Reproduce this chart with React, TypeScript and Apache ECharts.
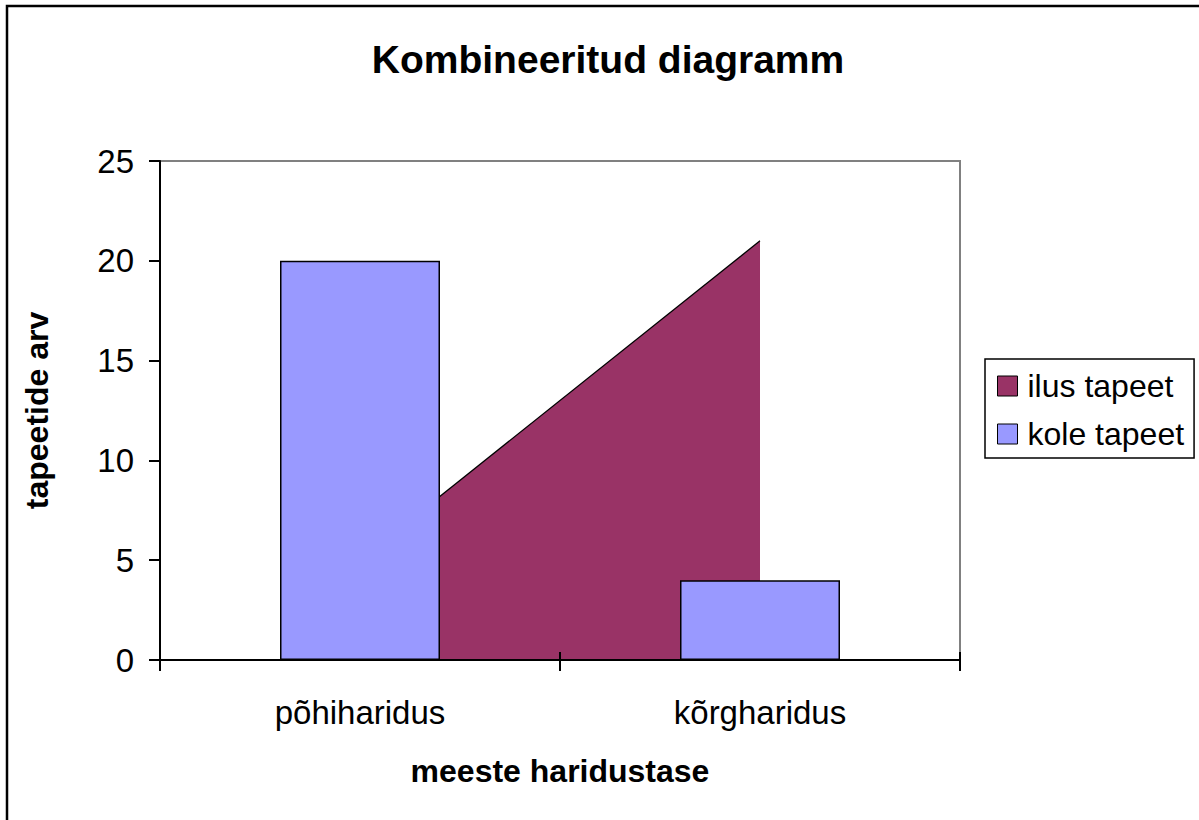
import React, { useEffect, useRef } from "react";
import * as echarts from "echarts";

const categories = ["põhiharidus", "kõrgharidus"];
const ilusTapeet = [5, 21];
const koleTapeet = [20, 4];
const yTicks = { min: 0, max: 25, interval: 5 };

const FONT = "Liberation Sans, Arial, sans-serif";

export default function App() {
  const ref = useRef<HTMLDivElement>(null);
  useEffect(() => {
    if (!ref.current) return;
    const chart = echarts.init(ref.current, undefined, { renderer: "svg" });
    chart.setOption({
      animation: false,
      backgroundColor: "#ffffff",
      textStyle: { fontFamily: FONT, color: "#000" },
      title: {
        text: "Kombineeritud diagramm",
        left: 603,
        top: 35,
        textAlign: "center",
        textStyle: { fontFamily: FONT, fontSize: 39, fontWeight: "bold", color: "#000" },
      },
      graphic: [
        {
          type: "rect",
          shape: { x: 7, y: 6, width: 1400, height: 1000 },
          style: { fill: "none", stroke: "#000", lineWidth: 2.5 },
          silent: true,
        },
      ],
      legend: {
        orient: "vertical",
        left: 985,
        top: 359,
        padding: [11, 10, 8, 12],
        itemGap: 16,
        itemWidth: 20,
        itemHeight: 20,
        borderColor: "#000",
        borderWidth: 1.5,
        backgroundColor: "#fff",
        textStyle: { fontFamily: FONT, fontSize: 32, color: "#000", padding: [0, 0, 0, 5] },
        data: [
          { name: "ilus tapeet", icon: "rect", itemStyle: { color: "#993366", borderColor: "#000", borderWidth: 1 } },
          { name: "kole tapeet", icon: "rect", itemStyle: { color: "#9999FF", borderColor: "#000", borderWidth: 1 } },
        ],
      },
      grid: {
        left: 160,
        top: 161,
        right: 239,
        bottom: 160,
        show: true,
        borderColor: "#808080",
        borderWidth: 2,
        backgroundColor: "transparent",
      },
      xAxis: [
        {
          type: "category",
          data: categories,
          boundaryGap: true,
          name: "meeste haridustase",
          nameLocation: "middle",
          nameGap: 95,
          nameTextStyle: { fontFamily: FONT, fontSize: 32, fontWeight: "bold", color: "#000" },
          axisLine: { show: true, lineStyle: { color: "#000", width: 2 } },
          axisTick: { show: true, inside: false, length: 11, lineStyle: { color: "#000", width: 2 } },
          axisLabel: { fontFamily: FONT, fontSize: 33, color: "#000", margin: 36 },
          splitLine: { show: false },
          z: 10,
        },
        {
          type: "category",
          data: categories,
          boundaryGap: true,
          position: "bottom",
          axisLine: { show: false },
          axisTick: { show: true, inside: true, length: 8, lineStyle: { color: "#000", width: 2 } },
          axisLabel: { show: false },
          splitLine: { show: false },
          z: 10,
        },
      ],
      yAxis: {
        type: "value",
        min: yTicks.min,
        max: yTicks.max,
        interval: yTicks.interval,
        name: "tapeetide arv",
        nameLocation: "middle",
        nameGap: 107,
        nameTextStyle: { fontFamily: FONT, fontSize: 32, fontWeight: "bold", color: "#000" },
        axisLine: { show: true, lineStyle: { color: "#000", width: 2 } },
        axisTick: { show: true, inside: false, length: 11, lineStyle: { color: "#000", width: 2 } },
        axisLabel: { fontFamily: FONT, fontSize: 33, color: "#000", margin: 26 },
        splitLine: { show: false },
        z: 10,
      },
      series: [
        {
          name: "ilus tapeet",
          type: "line",
          data: ilusTapeet,
          symbol: "none",
          itemStyle: { color: "#993366" },
          lineStyle: { color: "#000", width: 1.3 },
          areaStyle: { color: "#993366", opacity: 1 },
          z: 2,
        },
        {
          name: "kole tapeet",
          type: "bar",
          data: koleTapeet,
          barWidth: "40%",
          itemStyle: { color: "#9999FF", borderColor: "#000", borderWidth: 1.5 },
          z: 3,
        },
      ],
    });
    return () => chart.dispose();
  }, []);
  return (
    <div
      ref={ref}
      style={{ position: "fixed", left: 0, top: 0, width: 1199, height: 820 }}
    />
  );
}
